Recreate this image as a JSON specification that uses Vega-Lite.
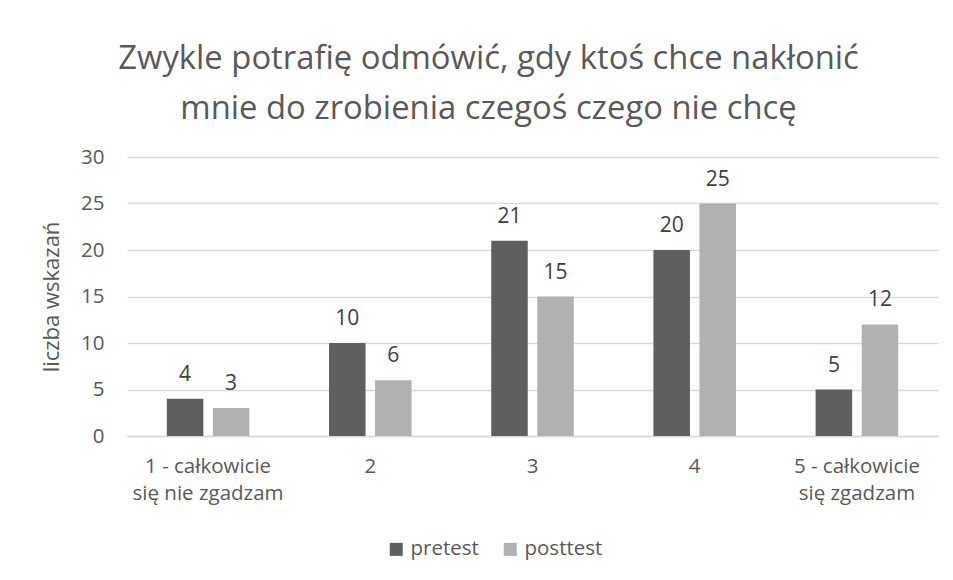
{
  "$schema": "https://vega.github.io/schema/vega-lite/v6.json",
  "width": 811,
  "height": 279,
  "autosize": {"type": "none"},
  "padding": {"left": 127, "top": 157, "right": 15, "bottom": 144},
  "background": "white",
  "config": {
    "font": "Open Sans",
    "view": {"stroke": null},
    "text": {"font": "Open Sans"}
  },
  "title": {
    "text": ["Zwykle potrafię odmówić, gdy ktoś chce nakłonić", "mnie do zrobienia czegoś czego nie chcę"],
    "fontSize": 32.8,
    "fontWeight": "normal",
    "color": "#595959",
    "lineHeight": 50,
    "anchor": "middle",
    "baseline": "alphabetic",
    "dx": -44,
    "offset": -5
  },
  "data": {
    "values": [
      {"kategoria": "1 - całkowicie się nie zgadzam", "test": "pretest", "liczba": 4},
      {"kategoria": "1 - całkowicie się nie zgadzam", "test": "posttest", "liczba": 3},
      {"kategoria": "2", "test": "pretest", "liczba": 10},
      {"kategoria": "2", "test": "posttest", "liczba": 6},
      {"kategoria": "3", "test": "pretest", "liczba": 21},
      {"kategoria": "3", "test": "posttest", "liczba": 15},
      {"kategoria": "4", "test": "pretest", "liczba": 20},
      {"kategoria": "4", "test": "posttest", "liczba": 25},
      {"kategoria": "5 - całkowicie się zgadzam", "test": "pretest", "liczba": 5},
      {"kategoria": "5 - całkowicie się zgadzam", "test": "posttest", "liczba": 12}
    ]
  },
  "encoding": {
    "x": {
      "field": "kategoria",
      "type": "nominal",
      "sort": null,
      "scale": {"paddingInner": 0.491, "paddingOuter": 0.2455},
      "axis": {
        "title": null,
        "labelAngle": 0,
        "labelFontSize": 20.5,
        "labelColor": "#595959",
        "labelLineHeight": 27,
        "labelPadding": 20,
        "ticks": false,
        "tickSize": 0,
        "domainColor": "#d9d9d9",
        "domainWidth": 1.5,
        "labelExpr": "datum.label == '1 - całkowicie się nie zgadzam' ? ['1 - całkowicie', 'się nie zgadzam'] : datum.label == '5 - całkowicie się zgadzam' ? ['5 - całkowicie', 'się zgadzam'] : datum.label"
      }
    },
    "xOffset": {
      "field": "test",
      "type": "nominal",
      "sort": ["pretest", "posttest"],
      "scale": {"paddingInner": 0.207, "paddingOuter": 0}
    },
    "y": {
      "field": "liczba",
      "type": "quantitative",
      "scale": {"domain": [0, 30], "nice": false},
      "axis": {
        "title": "liczba wskazań",
        "titleFontSize": 22,
        "titleFontWeight": "normal",
        "titleColor": "#595959",
        "titlePadding": 17,
        "values": [0, 5, 10, 15, 20, 25, 30],
        "labelFontSize": 20.5,
        "labelColor": "#595959",
        "labelPadding": 23,
        "ticks": false,
        "tickSize": 0,
        "domain": false,
        "gridColor": "#d9d9d9",
        "gridWidth": 1.5
      }
    }
  },
  "layer": [
    {
      "mark": {"type": "bar"},
      "encoding": {
        "color": {
          "field": "test",
          "type": "nominal",
          "sort": ["pretest", "posttest"],
          "scale": {"domain": ["pretest", "posttest"], "range": ["#5f5f5f", "#b1b1b1"]},
          "legend": {
            "title": null,
            "orient": "none",
            "direction": "horizontal",
            "legendX": 259,
            "legendY": 382,
            "symbolType": "square",
            "symbolSize": 169,
            "symbolStrokeWidth": 0,
            "labelFontSize": 20.5,
            "labelColor": "#595959",
            "labelOffset": 4,
            "columnPadding": 21
          }
        }
      }
    },
    {
      "mark": {"type": "text", "baseline": "alphabetic", "dy": -18, "fontSize": 21, "color": "#404040"},
      "encoding": {
        "text": {"field": "liczba", "type": "quantitative"}
      }
    }
  ]
}
